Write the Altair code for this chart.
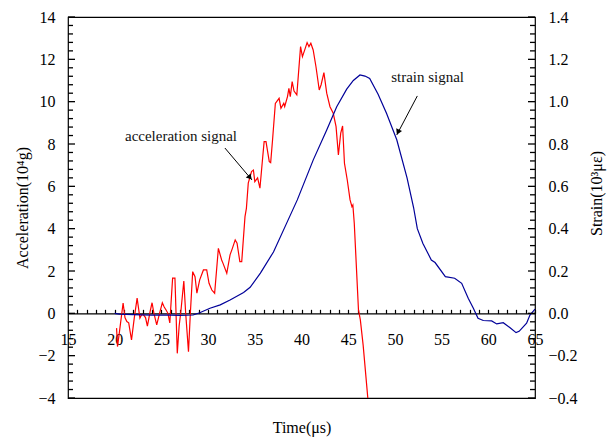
import altair as alt
import pandas as pd

# ---------------- data ----------------
acc_t = [20.2, 20.3, 20.5, 20.9, 21.1, 21.3, 21.5, 21.8, 22.1, 22.4, 22.7, 22.9, 23.1, 23.3, 23.5,
         23.8, 24.0, 24.2, 24.5, 24.8, 25.1, 25.3, 25.5, 25.7, 25.9, 26.2, 26.45, 26.7, 26.9, 27.1,
         27.4, 27.6, 27.9, 28.1, 28.35, 28.6, 28.8, 29.1, 29.5, 29.85, 30.1, 30.4, 30.7, 31.1, 31.45,
         31.6, 32.0, 32.35, 32.6, 32.9, 33.1, 33.4, 33.6, 33.95, 34.1, 34.3, 34.65, 34.85, 35.0, 35.3,
         35.55, 35.85, 36.0, 36.2, 36.55, 36.7, 36.9, 37.2, 37.6, 37.8, 38.1, 38.2, 38.5, 38.65, 38.8,
         39.0, 39.2, 39.5, 39.9, 40.1, 40.4, 40.6, 40.8, 41.0, 41.25, 41.55, 41.9, 42.1, 42.4, 42.7,
         43.05, 43.4, 43.7, 43.95, 44.2, 44.4, 44.6, 44.9, 45.2, 45.4, 45.5, 45.65, 46.1, 46.3, 46.6, 47.1]
acc_v = [-0.7, -1.57, -0.9, 0.49, -0.2, -0.39, -0.45, -1.26, -0.2, 0.72, -0.22, -0.05, -0.08, -0.2, -0.6,
         0.1, 0.5, 0.0, -0.55, 0.0, 0.5, 0.3, 0.16, 0.0, -0.45, 1.66, 1.66, -1.89, -0.6, 0.16,
         1.53, 0.0, -1.81, 0.0, 1.97, 1.73, 0.95, 1.58, 2.05, 2.05, 1.42, 1.1, 0.95, 3.07, 2.52,
         2.36, 1.89, 2.76, 3.07, 3.47, 3.31, 2.44, 2.44, 4.57, 4.96, 6.15, 6.7, 6.77, 6.22, 6.4,
         5.91, 7.4, 8.11, 8.11, 7.17, 7.12, 8.19, 9.92, 10.16, 9.69, 9.92, 9.77, 10.24, 10.63, 10.24,
         10.95, 10.5, 10.32, 12.6, 12.13, 12.52, 12.79, 12.6, 12.76, 12.44, 11.65, 10.55, 10.8, 11.37, 10.4,
         9.76, 9.45, 8.82, 7.48, 8.51, 8.85, 7.09, 6.3, 5.36, 5.04, 5.12, 4.26, 0.16, -0.31, -1.5, -4.0]

str_t = [20.0, 20.5, 22.0, 24.0, 26.0, 27.0, 28.4, 29.1, 30.2, 31.3, 32.35, 33.8, 34.5, 35.6, 37.0,
         38.4, 39.55, 41.26, 42.7, 43.77, 44.84, 45.55, 46.26, 46.8, 47.3, 48.2, 49.1, 50.2, 51.3, 52.0,
         52.4, 53.0, 53.9, 54.3, 55.4, 56.4, 57.15, 57.85, 58.4, 58.9, 59.46, 60.36, 60.9, 61.6, 62.3,
         62.97, 63.3, 64.1, 64.46, 65.0]
str_v = [0.0, -0.004, -0.006, -0.008, -0.008, -0.01, -0.008, 0.003, 0.024, 0.04, 0.063, 0.098, 0.123, 0.19, 0.29,
         0.425, 0.536, 0.725, 0.866, 0.976, 1.059, 1.10, 1.126, 1.121, 1.11, 1.035, 0.945, 0.82, 0.64, 0.5,
         0.40, 0.33, 0.252, 0.24, 0.173, 0.166, 0.142, 0.071, 0.024, -0.023, -0.034, -0.036, -0.05, -0.044, -0.067,
         -0.091, -0.085, -0.047, -0.008, 0.02]

x_minor = list(range(15, 66))
x_labels = list(range(15, 66, 5))
acc_minor = [round(-4 + 0.4 * i, 1) for i in range(46)]
acc_labels = list(range(-4, 15, 2))
str_minor = [round(-0.4 + 0.04 * i, 2) for i in range(46)]
str_labels = [round(-0.4 + 0.2 * i, 1) for i in range(10)]

annot_text = ["acceleration signal", "strain signal"]
annot_x = [21.1, 53.5]
annot_y = [8.38, 11.17]
annot_align = ["left", "center"]
arrow_x1 = [31.8, 52.4]
arrow_y1 = [7.81, 10.27]
arrow_x2 = [34.7, 50.2]
arrow_y2 = [6.3, 8.43]
head_x = [34.42, 50.37]
head_y = [6.45, 8.60]
head_angle = [140, 204]

# ---------------- layout ----------------
W, H = 467, 381
ZERO = H * 4 / 18          # pixels from bottom to the zero line
ZY = H - ZERO              # zero line, pixels from top
FONT = "Liberation Serif"

acc_df = pd.DataFrame({"t": acc_t, "a": acc_v})
str_df = pd.DataFrame({"t": str_t, "s": str_v})

xs = alt.Scale(domain=[15, 65], nice=False, zero=False)
ys_acc = alt.Scale(domain=[-4, 14], nice=False, zero=False)
ys_str = alt.Scale(domain=[-0.4, 1.4], nice=False, zero=False)

# red acceleration line; x axis = zero line with upward ticks, y axis = left labels
acc_line = alt.Chart(acc_df).mark_line(color="#ff0000", strokeWidth=1.2, clip=True).encode(
    x=alt.X("t:Q", scale=xs, axis=alt.Axis(
        orient="top", offset=-ZY, values=x_minor, ticks=True, tickSize=4, tickWidth=1.2,
        tickColor="black", labels=False, title=None, grid=False, domain=True,
        domainColor="black", domainWidth=1.2)),
    y=alt.Y("a:Q", scale=ys_acc, axis=alt.Axis(
        orient="left", values=acc_labels, ticks=False, tickSize=0, labelPadding=13,
        domain=False, grid=False, labelFont=FONT, labelFontSize=16, labelColor="black",
        title="Acceleration(10⁴g)", titleFont=FONT, titleFontSize=16, titleFontWeight="normal",
        titleColor="black", titleX=-46, titleY=H / 2, titleAngle=270, titleAlign="center",
        titleBaseline="middle")),
)

# blue strain line; x axis = labels below the zero line, y axis = right labels
str_line = alt.Chart(str_df).mark_line(color="#000099", strokeWidth=1.2, clip=True).encode(
    x=alt.X("t:Q", scale=xs, axis=alt.Axis(
        orient="bottom", offset=-ZERO, values=x_labels, ticks=False, tickSize=0,
        domain=False, grid=False, labelPadding=26, labelBaseline="middle",
        labelFlush=False, labelOverlap=False, labelBound=False,
        labelFont=FONT, labelFontSize=16, labelColor="black",
        title="Time(μs)", titleFont=FONT, titleFontSize=16, titleFontWeight="normal",
        titleColor="black", titleX=W / 2, titleY=ZERO + 29, titleAlign="center",
        titleBaseline="middle")),
    y=alt.Y("s:Q", scale=ys_str, axis=alt.Axis(
        orient="right", values=str_labels, format=".1f", ticks=False, tickSize=0,
        labelPadding=13, domain=False, grid=False, labelFont=FONT, labelFontSize=16,
        labelColor="black",
        title="Strain(10³με)", titleFont=FONT, titleFontSize=16, titleFontWeight="normal",
        titleColor="black", titleX=61, titleY=176, titleAngle=270, titleAlign="center",
        titleBaseline="middle")),
)

layers = [acc_line, str_line]

# inward tick marks on the left and right frame, placed by the scales
def yticks(values, scale, major_vals, x_edge, direction):
    df = pd.DataFrame({"v": values})
    df["major"] = [any(abs(v - m) < 1e-6 for m in major_vals) for v in values]
    out = []
    for is_major, length in [(False, 5), (True, 7)]:
        sub = df[df["major"] == is_major].reset_index(drop=True)
        out.append(alt.Chart(sub).mark_rule(color="black", strokeWidth=1.3).encode(
            y=alt.Y("v:Q", scale=scale, axis=None),
            x=alt.value(x_edge),
            x2=alt.value(x_edge + direction * length),
        ))
    return out

layers += yticks(acc_minor, ys_acc, acc_labels, 0, 1)
layers += yticks(str_minor, ys_str, str_labels, W, -1)

for i in range(2):
    tdf = pd.DataFrame({"x": [annot_x[i]], "y": [annot_y[i]], "txt": [annot_text[i]]})
    layers.append(alt.Chart(tdf).mark_text(
        align=annot_align[i], baseline="middle", font=FONT, fontSize=15, color="#111"
    ).encode(
        x=alt.X("x:Q", scale=xs, axis=None),
        y=alt.Y("y:Q", scale=ys_acc, axis=None),
        text="txt:N",
    ))
    adf = pd.DataFrame({"x1": [arrow_x1[i]], "y1": [arrow_y1[i]],
                        "x2": [arrow_x2[i]], "y2": [arrow_y2[i]]})
    layers.append(alt.Chart(adf).mark_rule(color="black", strokeWidth=1).encode(
        x=alt.X("x1:Q", scale=xs, axis=None),
        y=alt.Y("y1:Q", scale=ys_acc, axis=None),
        x2="x2:Q", y2="y2:Q",
    ))
    hdf = pd.DataFrame({"x": [head_x[i]], "y": [head_y[i]]})
    layers.append(alt.Chart(hdf).mark_point(
        shape="triangle", filled=True, size=40, color="black", opacity=1, angle=head_angle[i]
    ).encode(
        x=alt.X("x:Q", scale=xs, axis=None),
        y=alt.Y("y:Q", scale=ys_acc, axis=None),
    ))

chart = alt.layer(*layers).resolve_scale(
    y="independent"
).resolve_axis(
    x="independent", y="independent"
).properties(
    width=W, height=H,
    padding={"left": 68, "top": 17, "right": 81, "bottom": 40},
    autosize=alt.AutoSizeParams(type="none"),
    background="white",
).configure_view(
    stroke="black", strokeWidth=1.2
).configure_text(font=FONT)

chart.save("out.html", embed_options={"renderer": "svg", "actions": False})
